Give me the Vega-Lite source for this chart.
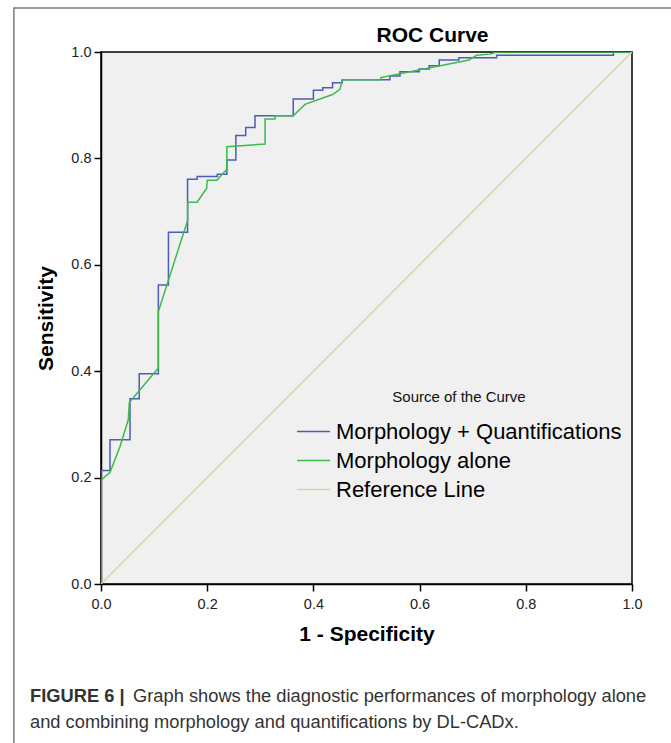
{
  "$schema": "https://vega.github.io/schema/vega-lite/v6.json",
  "autosize": "none",
  "width": 531,
  "height": 532,
  "padding": {"left": 101, "top": 52, "right": 39, "bottom": 159},
  "background": "white",
  "config": {
    "font": "Liberation Sans",
    "view": {"fill": "#F0F0F0", "stroke": "#000000", "strokeWidth": 1.5},
    "axis": {
      "grid": false,
      "domainColor": "#000000",
      "domainWidth": 1.5,
      "tickColor": "#000000",
      "tickWidth": 1.5,
      "tickSize": 7,
      "labelFontSize": 14.5,
      "labelColor": "#222222",
      "labelFlush": false,
      "titleFontSize": 21,
      "titleFontWeight": "bold",
      "titleColor": "#000000"
    }
  },
  "title": {
    "text": "ROC Curve",
    "fontSize": 21,
    "fontWeight": "bold",
    "color": "#000000",
    "anchor": "middle",
    "frame": "group",
    "dx": 66,
    "dy": 48,
    "offset": 9
  },
  "datasets": {
    "roc": [
      {"series": "Morphology + Quantifications", "i": 1, "fpr": 0, "tpr": 0},
      {"series": "Morphology + Quantifications", "i": 2, "fpr": 0, "tpr": 0.2135},
      {"series": "Morphology + Quantifications", "i": 3, "fpr": 0.017, "tpr": 0.2135},
      {"series": "Morphology + Quantifications", "i": 4, "fpr": 0.017, "tpr": 0.271},
      {"series": "Morphology + Quantifications", "i": 5, "fpr": 0.0546, "tpr": 0.271},
      {"series": "Morphology + Quantifications", "i": 6, "fpr": 0.0546, "tpr": 0.348},
      {"series": "Morphology + Quantifications", "i": 7, "fpr": 0.072, "tpr": 0.348},
      {"series": "Morphology + Quantifications", "i": 8, "fpr": 0.072, "tpr": 0.395},
      {"series": "Morphology + Quantifications", "i": 9, "fpr": 0.108, "tpr": 0.395},
      {"series": "Morphology + Quantifications", "i": 10, "fpr": 0.108, "tpr": 0.562},
      {"series": "Morphology + Quantifications", "i": 11, "fpr": 0.127, "tpr": 0.562},
      {"series": "Morphology + Quantifications", "i": 12, "fpr": 0.127, "tpr": 0.661},
      {"series": "Morphology + Quantifications", "i": 13, "fpr": 0.163, "tpr": 0.661},
      {"series": "Morphology + Quantifications", "i": 14, "fpr": 0.163, "tpr": 0.761},
      {"series": "Morphology + Quantifications", "i": 15, "fpr": 0.181, "tpr": 0.761},
      {"series": "Morphology + Quantifications", "i": 16, "fpr": 0.181, "tpr": 0.766},
      {"series": "Morphology + Quantifications", "i": 17, "fpr": 0.219, "tpr": 0.766},
      {"series": "Morphology + Quantifications", "i": 18, "fpr": 0.219, "tpr": 0.770},
      {"series": "Morphology + Quantifications", "i": 19, "fpr": 0.237, "tpr": 0.770},
      {"series": "Morphology + Quantifications", "i": 20, "fpr": 0.237, "tpr": 0.797},
      {"series": "Morphology + Quantifications", "i": 21, "fpr": 0.254, "tpr": 0.797},
      {"series": "Morphology + Quantifications", "i": 22, "fpr": 0.254, "tpr": 0.843},
      {"series": "Morphology + Quantifications", "i": 23, "fpr": 0.2725, "tpr": 0.843},
      {"series": "Morphology + Quantifications", "i": 24, "fpr": 0.2725, "tpr": 0.858},
      {"series": "Morphology + Quantifications", "i": 25, "fpr": 0.29, "tpr": 0.858},
      {"series": "Morphology + Quantifications", "i": 26, "fpr": 0.29, "tpr": 0.880},
      {"series": "Morphology + Quantifications", "i": 27, "fpr": 0.362, "tpr": 0.880},
      {"series": "Morphology + Quantifications", "i": 28, "fpr": 0.362, "tpr": 0.9115},
      {"series": "Morphology + Quantifications", "i": 29, "fpr": 0.4, "tpr": 0.9115},
      {"series": "Morphology + Quantifications", "i": 30, "fpr": 0.4, "tpr": 0.928},
      {"series": "Morphology + Quantifications", "i": 31, "fpr": 0.4175, "tpr": 0.928},
      {"series": "Morphology + Quantifications", "i": 32, "fpr": 0.4175, "tpr": 0.933},
      {"series": "Morphology + Quantifications", "i": 33, "fpr": 0.436, "tpr": 0.933},
      {"series": "Morphology + Quantifications", "i": 34, "fpr": 0.436, "tpr": 0.942},
      {"series": "Morphology + Quantifications", "i": 35, "fpr": 0.4544, "tpr": 0.942},
      {"series": "Morphology + Quantifications", "i": 36, "fpr": 0.4544, "tpr": 0.948},
      {"series": "Morphology + Quantifications", "i": 37, "fpr": 0.544, "tpr": 0.948},
      {"series": "Morphology + Quantifications", "i": 38, "fpr": 0.544, "tpr": 0.955},
      {"series": "Morphology + Quantifications", "i": 39, "fpr": 0.563, "tpr": 0.955},
      {"series": "Morphology + Quantifications", "i": 40, "fpr": 0.563, "tpr": 0.963},
      {"series": "Morphology + Quantifications", "i": 41, "fpr": 0.599, "tpr": 0.963},
      {"series": "Morphology + Quantifications", "i": 42, "fpr": 0.599, "tpr": 0.968},
      {"series": "Morphology + Quantifications", "i": 43, "fpr": 0.618, "tpr": 0.968},
      {"series": "Morphology + Quantifications", "i": 44, "fpr": 0.618, "tpr": 0.974},
      {"series": "Morphology + Quantifications", "i": 45, "fpr": 0.637, "tpr": 0.974},
      {"series": "Morphology + Quantifications", "i": 46, "fpr": 0.637, "tpr": 0.985},
      {"series": "Morphology + Quantifications", "i": 47, "fpr": 0.674, "tpr": 0.985},
      {"series": "Morphology + Quantifications", "i": 48, "fpr": 0.674, "tpr": 0.989},
      {"series": "Morphology + Quantifications", "i": 49, "fpr": 0.745, "tpr": 0.989},
      {"series": "Morphology + Quantifications", "i": 50, "fpr": 0.745, "tpr": 0.994},
      {"series": "Morphology + Quantifications", "i": 51, "fpr": 0.965, "tpr": 0.994},
      {"series": "Morphology + Quantifications", "i": 52, "fpr": 0.965, "tpr": 1},
      {"series": "Morphology + Quantifications", "i": 53, "fpr": 1, "tpr": 1},
      {"series": "Morphology alone", "i": 1, "fpr": 0, "tpr": 0},
      {"series": "Morphology alone", "i": 2, "fpr": 0, "tpr": 0.195},
      {"series": "Morphology alone", "i": 3, "fpr": 0.017, "tpr": 0.21},
      {"series": "Morphology alone", "i": 4, "fpr": 0.0358, "tpr": 0.2586},
      {"series": "Morphology alone", "i": 5, "fpr": 0.0514, "tpr": 0.3087},
      {"series": "Morphology alone", "i": 6, "fpr": 0.0533, "tpr": 0.341},
      {"series": "Morphology alone", "i": 7, "fpr": 0.108, "tpr": 0.406},
      {"series": "Morphology alone", "i": 8, "fpr": 0.108, "tpr": 0.512},
      {"series": "Morphology alone", "i": 9, "fpr": 0.1633, "tpr": 0.684},
      {"series": "Morphology alone", "i": 10, "fpr": 0.1633, "tpr": 0.7175},
      {"series": "Morphology alone", "i": 11, "fpr": 0.181, "tpr": 0.7175},
      {"series": "Morphology alone", "i": 12, "fpr": 0.199, "tpr": 0.744},
      {"series": "Morphology alone", "i": 13, "fpr": 0.2, "tpr": 0.759},
      {"series": "Morphology alone", "i": 14, "fpr": 0.218, "tpr": 0.759},
      {"series": "Morphology alone", "i": 15, "fpr": 0.237, "tpr": 0.7795},
      {"series": "Morphology alone", "i": 16, "fpr": 0.237, "tpr": 0.822},
      {"series": "Morphology alone", "i": 17, "fpr": 0.309, "tpr": 0.827},
      {"series": "Morphology alone", "i": 18, "fpr": 0.309, "tpr": 0.874},
      {"series": "Morphology alone", "i": 19, "fpr": 0.3277, "tpr": 0.874},
      {"series": "Morphology alone", "i": 20, "fpr": 0.3277, "tpr": 0.880},
      {"series": "Morphology alone", "i": 21, "fpr": 0.362, "tpr": 0.880},
      {"series": "Morphology alone", "i": 22, "fpr": 0.3842, "tpr": 0.9016},
      {"series": "Morphology alone", "i": 23, "fpr": 0.436, "tpr": 0.920},
      {"series": "Morphology alone", "i": 24, "fpr": 0.45, "tpr": 0.93},
      {"series": "Morphology alone", "i": 25, "fpr": 0.4544, "tpr": 0.948},
      {"series": "Morphology alone", "i": 26, "fpr": 0.527, "tpr": 0.948},
      {"series": "Morphology alone", "i": 27, "fpr": 0.527, "tpr": 0.952},
      {"series": "Morphology alone", "i": 28, "fpr": 0.693, "tpr": 0.985},
      {"series": "Morphology alone", "i": 29, "fpr": 0.7075, "tpr": 0.994},
      {"series": "Morphology alone", "i": 30, "fpr": 0.7326, "tpr": 0.996},
      {"series": "Morphology alone", "i": 31, "fpr": 0.745, "tpr": 1},
      {"series": "Morphology alone", "i": 32, "fpr": 1, "tpr": 1},
      {"series": "Reference Line", "i": 1, "fpr": 0, "tpr": 0},
      {"series": "Reference Line", "i": 2, "fpr": 1, "tpr": 1}
    ]
  },
  "layer": [
    {
      "data": {"values": [{"frame": "figure"}]},
      "mark": {"type": "rect", "fill": "transparent", "stroke": "#7a7a7a", "strokeWidth": 1.5},
      "encoding": {
        "x": {"datum": -0.164, "type": "quantitative", "scale": {"domain": [0, 1], "nice": false, "zero": false}},
        "x2": {"datum": 1.2},
        "y": {"datum": 1.0825, "type": "quantitative", "scale": {"domain": [0, 1], "nice": false, "zero": false}},
        "y2": {"datum": -0.4}
      }
    },
    {
      "data": {"name": "roc"},
      "mark": {"type": "line", "strokeWidth": 1.5, "clip": true},
      "encoding": {
        "x": {
          "field": "fpr", "type": "quantitative", "title": "1 - Specificity",
          "scale": {"domain": [0, 1], "nice": false, "zero": false},
          "axis": {"values": [0, 0.2, 0.4, 0.6, 0.8, 1], "format": ".1f", "labelPadding": 6, "titlePadding": 13}
        },
        "y": {
          "field": "tpr", "type": "quantitative", "title": "Sensitivity",
          "scale": {"domain": [0, 1], "nice": false, "zero": false},
          "axis": {"values": [0, 0.2, 0.4, 0.6, 0.8, 1], "format": ".1f", "labelPadding": 3, "titlePadding": 14}
        },
        "order": {"field": "i", "type": "quantitative"},
        "color": {
          "field": "series",
          "type": "nominal",
          "scale": {
            "domain": ["Morphology + Quantifications", "Morphology alone", "Reference Line"],
            "range": ["#4B5DB6", "#3CBB48", "#D6D6A0"]
          },
          "legend": {
            "orient": "none",
            "legendX": 195,
            "legendY": 338,
            "title": "Source of the Curve",
            "titleFontSize": 15,
            "titleFontWeight": "normal",
            "titleColor": "#111111",
            "titleAnchor": "middle",
            "titlePadding": 9,
            "labelFontSize": 22,
            "labelColor": "#000000",
            "labelOffset": 5,
            "labelLimit": 400,
            "symbolType": "stroke",
            "symbolSize": 1089,
            "symbolStrokeWidth": 1.5,
            "rowPadding": -4.5
          }
        }
      }
    },
    {
      "data": {"values": [{"part": "label"}]},
      "mark": {"type": "text", "text": "FIGURE 6 |", "align": "left", "baseline": "alphabetic", "fontSize": 18.3, "fontWeight": "bold", "color": "#333333"},
      "encoding": {"x": {"datum": -0.1337, "type": "quantitative"}, "y": {"datum": -0.221, "type": "quantitative"}}
    },
    {
      "data": {"values": [{"part": "line1"}]},
      "mark": {"type": "text", "text": "Graph shows the diagnostic performances of morphology alone", "align": "left", "baseline": "alphabetic", "fontSize": 18.3, "color": "#333333"},
      "encoding": {"x": {"datum": 0.0603, "type": "quantitative"}, "y": {"datum": -0.221, "type": "quantitative"}}
    },
    {
      "data": {"values": [{"part": "line2"}]},
      "mark": {"type": "text", "text": "and combining morphology and quantifications by DL-CADx.", "align": "left", "baseline": "alphabetic", "fontSize": 18.3, "color": "#333333"},
      "encoding": {"x": {"datum": -0.1337, "type": "quantitative"}, "y": {"datum": -0.2705, "type": "quantitative"}}
    }
  ]
}
